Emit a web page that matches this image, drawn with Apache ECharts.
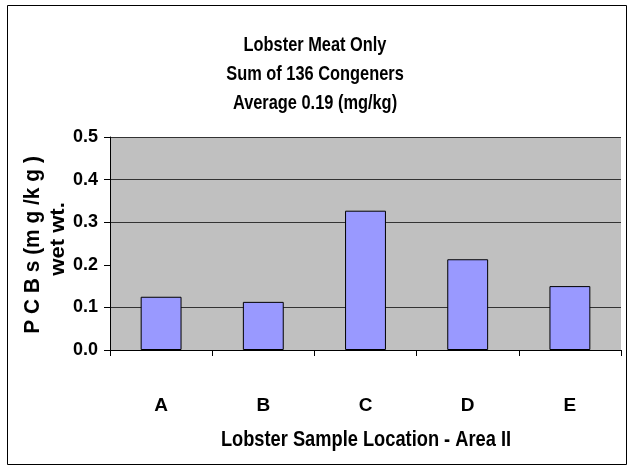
<!DOCTYPE html>
<html>
<head>
<meta charset="utf-8">
<script src="https://cdn.jsdelivr.net/npm/echarts@6/dist/echarts.min.js"></script>
<style>
html, body { margin: 0; padding: 0; background: #fff; }
#chart { width: 631px; height: 469px; }
</style>
</head>
<body>
<div id="chart"></div>
<script>
// 采样点
var locations = ['A', 'B', 'C', 'D', 'E'];
// PCBs (mg/kg wet wt.)
var pcbValues = [0.125, 0.113, 0.327, 0.213, 0.150];
var titleLines = ['Lobster Meat Only', 'Sum of 136 Congeners', 'Average 0.19 (mg/kg)'];
var xTitle = 'Lobster Sample Location - Area II';
var yTitle1 = 'P C B s (m g /k g )';
var yTitle2 = 'wet wt.';

var font = '"Liberation Sans", Arial, sans-serif';
// 窄体字: 用 scaleX 压扁
function narrowText(str, x, y, size, sx, rot) {
    return {
        type: 'text', x: x, y: y, scaleX: sx, rotation: rot || 0,
        style: { text: str, font: 'bold ' + size + 'px ' + font, fill: '#000', align: 'center', verticalAlign: 'middle' }
    };
}
var chart = echarts.init(document.getElementById('chart'));
var opt = {
    animation: false,
    graphic: [
        // 外框
        { type: 'rect', shape: { x: 7.5, y: 5.5, width: 619, height: 459 }, style: { fill: null, stroke: '#000', lineWidth: 1 } },
        narrowText(titleLines[0], 315, 45, 21, 0.78),
        narrowText(titleLines[1], 315, 74, 21, 0.78),
        narrowText(titleLines[2], 315, 103, 21, 0.78),
        narrowText(xTitle, 366, 440, 22, 0.83),
        narrowText(yTitle1, 33, 245, 22, 0.95, Math.PI / 2),
        narrowText(yTitle2, 58, 239, 21, 1.05, Math.PI / 2)
    ],
    grid: { left: 110, right: 10, top: 137, bottom: 119, backgroundColor: '#c0c0c0', show: true, borderWidth: 0 },
    xAxis: {
        type: 'category',
        data: locations,
        axisLine: { lineStyle: { color: '#000' } },
        axisTick: { show: true, length: 6, lineStyle: { color: '#000' } },
        axisLabel: { fontFamily: font, fontWeight: 'bold', fontSize: 19, color: '#000', margin: 46 }
    },
    yAxis: {
        type: 'value',
        min: 0,
        max: 0.5,
        interval: 0.1,
        axisLine: { show: true, lineStyle: { color: '#000' } },
        axisTick: { show: true, length: 6, lineStyle: { color: '#000' } },
        axisLabel: {
            fontFamily: font, fontWeight: 'bold', fontSize: 18, color: '#000', margin: 12,
            formatter: function (v) { return v.toFixed(1); }
        },
        splitLine: {
            show: true,
            lineStyle: { color: ['#000', '#333', 'rgba(0,0,0,0)', '#333', '#333', '#333'], width: 1 }
        }
    },
    series: [{
        type: 'bar',
        data: pcbValues,
        barWidth: '40%',
        itemStyle: { color: '#9999ff', borderColor: '#000', borderWidth: 1 }
    }]
};
chart.setOption(opt);
</script>
</body>
</html>
